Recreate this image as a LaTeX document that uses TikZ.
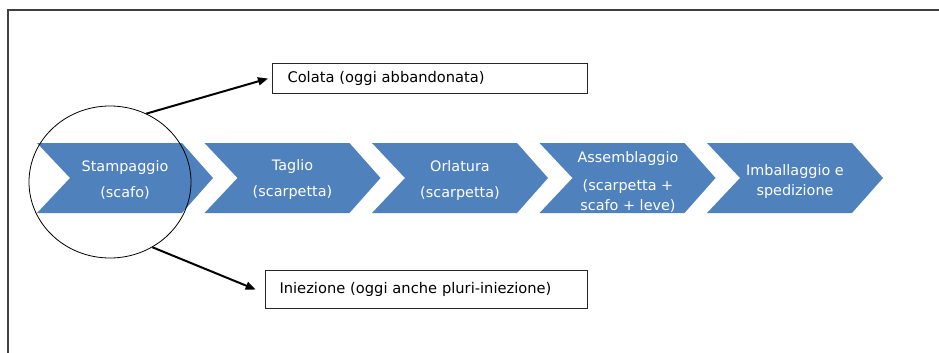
\documentclass[tikz,border=0pt]{standalone}
\usepackage{fontspec}
\setmainfont{DejaVu Sans}
\usetikzlibrary{shapes.geometric,arrows.meta}
\definecolor{chev}{HTML}{4F81BD}
\definecolor{framec}{HTML}{404040}
\begin{document}
\begin{tikzpicture}[x=0.75pt,y=-0.75pt,
  chevtext/.style={text=white,font=\fontsize{10.8}{15}\selectfont,align=center,inner sep=0pt},
  box/.style={draw=black!85,line width=0.8pt,align=left,font=\fontsize{11}{13}\selectfont,anchor=north west,inner ysep=0pt},
  conn/.style={draw=black,line width=1.5pt,-{Triangle[length=7.5pt,width=6pt]}}]
\useasboundingbox (0,0) rectangle (939,353);
\draw[framec,line width=0.8pt] (8,353) -- (8,10) -- (939,10);
\foreach \L in {37,204.5,372,539.5,707}
  \fill[chev] (\L,143) -- ++(145,0) -- ++(31,35) -- ++(-31,35) -- ++(-145,0) -- ++(33,-35) -- cycle;
\node[chevtext] (t1) at (125,180) {Stampaggio\\[4.5pt](scafo)};
\node[chevtext] (t2) at (292.5,180) {Taglio\\[4.5pt](scarpetta)};
\node[chevtext] (t3) at (460,181) {Orlatura\\[4.5pt](scarpetta)};
\node[chevtext] (t4) at (628,182) {Assemblaggio\\[6pt](scarpetta +\\scafo + leve)};
\node[chevtext] (t5) at (795,182) {Imballaggio e\\spedizione};
\node[draw,ellipse,line width=0.6pt,minimum width=121.5pt,minimum height=114pt,inner sep=0pt] (circ) at (110,182) {};
\node[box,text width=213.75pt,inner xsep=11.25pt,minimum height=22.5pt] (colata) at (272,63) {Colata (oggi abbandonata)};
\node[box,text width=220.5pt,inner xsep=10.5pt,minimum height=28.5pt] (iniez) at (265,270) {Iniezione (oggi anche pluri-iniezione)};
\draw[conn] (circ.62) -- ([xshift=-3pt]colata.west);
\draw[conn] (circ.-57) -- ([xshift=-7pt]iniez.west);
\end{tikzpicture}
\end{document}
